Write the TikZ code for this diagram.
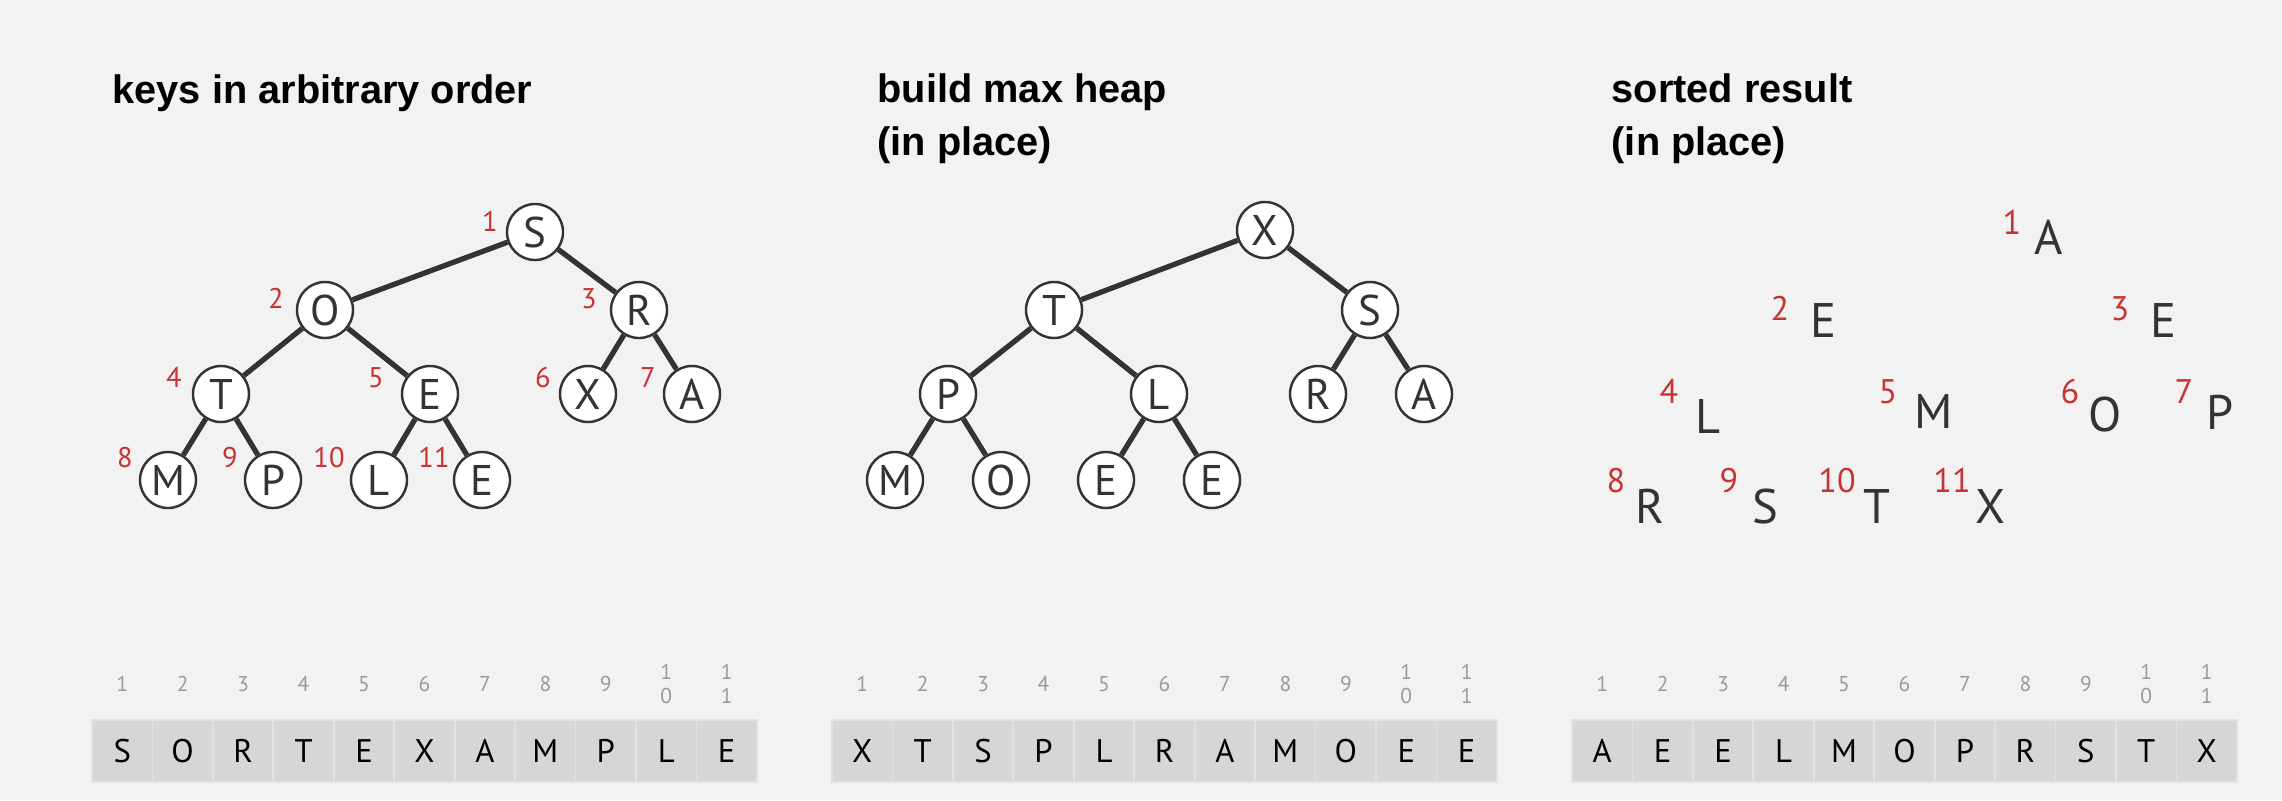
\documentclass[tikz,border=0pt]{standalone}
\usepackage{fontspec}
\setmainfont{PT Sans}
\newfontfamily\headfont{Liberation Sans}

\definecolor{bgcol}{HTML}{F2F2F2}
\definecolor{ink}{HTML}{333333}
\definecolor{idxred}{HTML}{C83232}
\definecolor{cellgray}{HTML}{D6D6D6}
\definecolor{cellline}{HTML}{E2E2E2}
\definecolor{idxgray}{HTML}{9A9A9A}

\tikzset{
  key/.style={circle, draw=ink, fill=white, line width=0.7pt, minimum size=0.56cm,
    inner sep=0pt, text=ink, font=\fontsize{12.2}{12.2}\selectfont},
  link/.style={draw=ink, line width=1.5pt},
  num/.style={text=idxred, anchor=base, inner sep=0pt, font=\fontsize{8.1}{8.1}\selectfont},
  bignum/.style={num, font=\fontsize{9.7}{9.7}\selectfont},
  sortkey/.style={text=ink, anchor=base, inner sep=0pt, font=\fontsize{13.8}{13.8}\selectfont},
  heading/.style={anchor=base west, align=left, inner sep=0pt,
    font=\headfont\fontsize{11.3}{14.8}\selectfont\bfseries},
  cell/.style={fill=cellgray, draw=cellline, line width=0.5pt, minimum width=0.6045cm,
    minimum height=0.62cm, inner sep=0pt, text=black, font=\fontsize{9.3}{9.3}\selectfont},
  slotnum/.style={text=idxgray, align=center, inner sep=0pt, font=\fontsize{6.1}{6.8}\selectfont}
}

\begin{document}
\begin{tikzpicture}[x=0.01cm, y=-0.01cm]
  \fill[bgcol] (0,0) rectangle (2282,800);

  % titles (base = last line)
  \node[heading] (t1) at (112,103) {keys in arbitrary order};
  \node[heading] (t2) at (877,155) {build max heap\\(in place)};
  \node[heading] (t3) at (1611,155) {sorted result\\(in place)};

  % keys in arbitrary order
  \node[key] (s) at (535,232) {S};
  \node[key] (o) at (325,310) {O};
  \node[key] (r) at (639,310) {R};
  \node[key] (t) at (221,394) {T};
  \node[key] (e) at (430,394) {E};
  \node[key] (x) at (588,394) {X};
  \node[key] (a) at (692,394) {A};
  \node[key] (m) at (168,480) {M};
  \node[key] (p) at (273,480) {P};
  \node[key] (l) at (379,480) {L};
  \node[key] (ee) at (482,480) {E};

  \draw[link] (s) -- (o);
  \draw[link] (s) -- (r);
  \draw[link] (o) -- (t);
  \draw[link] (o) -- (e);
  \draw[link] (r) -- (x);
  \draw[link] (r) -- (a);
  \draw[link] (t) -- (m);
  \draw[link] (t) -- (p);
  \draw[link] (e) -- (l);
  \draw[link] (e) -- (ee);

  \node[num] (n1) at (490,231) {1};
  \node[num] (n2) at (276,308) {2};
  \node[num] (n3) at (589,308) {3};
  \node[num] (n4) at (174,387) {4};
  \node[num] (n5) at (376,387) {5};
  \node[num] (n6) at (543,387) {6};
  \node[num] (n7) at (648,387) {7};
  \node[num] (n8) at (125,467) {8};
  \node[num] (n9) at (230,467) {9};
  \node[num] (n10) at (329,467) {10};
  \node[num] (n11) at (434,467) {11};

  % build max heap
  \node[key] (hx) at (1265,230) {X};
  \node[key] (ht) at (1054,310) {T};
  \node[key] (hs) at (1370,310) {S};
  \node[key] (hp) at (948,394) {P};
  \node[key] (hl) at (1159,394) {L};
  \node[key] (hr) at (1318,394) {R};
  \node[key] (ha) at (1424,394) {A};
  \node[key] (hm) at (895,480) {M};
  \node[key] (ho) at (1001,480) {O};
  \node[key] (he) at (1106,480) {E};
  \node[key] (hee) at (1212,480) {E};

  \draw[link] (hx) -- (ht);
  \draw[link] (hx) -- (hs);
  \draw[link] (ht) -- (hp);
  \draw[link] (ht) -- (hl);
  \draw[link] (hs) -- (hr);
  \draw[link] (hs) -- (ha);
  \draw[link] (hp) -- (hm);
  \draw[link] (hp) -- (ho);
  \draw[link] (hl) -- (he);
  \draw[link] (hl) -- (hee);

  % sorted result
  \node[sortkey] (sa) at (2049,254) {A};
  \node[sortkey] (se) at (1823,337) {E};
  \node[sortkey] (see) at (2163,337) {E};
  \node[sortkey] (sl) at (1708,433) {L};
  \node[sortkey] (sm) at (1934,428) {M};
  \node[sortkey] (so) at (2105,431) {O};
  \node[sortkey] (sp) at (2220,429) {P};
  \node[sortkey] (sr) at (1650,523) {R};
  \node[sortkey] (ss) at (1765,523) {S};
  \node[sortkey] (st) at (1877,523) {T};
  \node[sortkey] (sx) at (1990,523) {X};

  \node[bignum] (m1) at (2012,234) {1};
  \node[bignum] (m2) at (1780,320) {2};
  \node[bignum] (m3) at (2120,320) {3};
  \node[bignum] (m4) at (1669,403) {4};
  \node[bignum] (m5) at (1888,403) {5};
  \node[bignum] (m6) at (2070,403) {6};
  \node[bignum] (m7) at (2184,403) {7};
  \node[bignum] (m8) at (1616,492) {8};
  \node[bignum] (m9) at (1729,492) {9};
  \node[bignum] (m10) at (1837,492) {10};
  \node[bignum] (m11) at (1952,492) {11};

  % arrays
  \foreach \p/\x/\keys in {1/92/{S,O,R,T,E,X,A,M,P,L,E},
                           2/832/{X,T,S,P,L,R,A,M,O,E,E},
                           3/1572/{A,E,E,L,M,O,P,R,S,T,X}} {
    \foreach \k [count=\i] in \keys
      \node[cell] (arr\p-\i) at ({\x+(\i-0.5)*60.45},751) {\k};
    \foreach \n [count=\i] in {1,2,3,4,5,6,7,8,9,{1\\0},{1\\1}}
      \node[slotnum] (ix\p-\i) at ({\x+(\i-0.5)*60.45},684) {\n};
  }
\end{tikzpicture}
\end{document}
